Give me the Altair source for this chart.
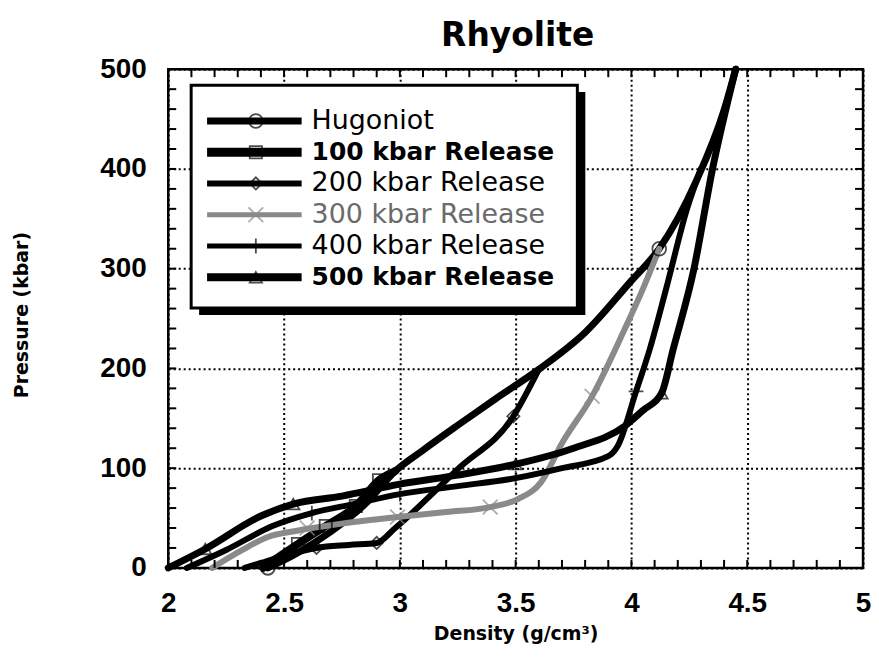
import altair as alt
import pandas as pd

# ---------------- data ----------------
series_names = ["Hugoniot", "100 kbar Release", "200 kbar Release",
                "300 kbar Release", "400 kbar Release", "500 kbar Release"]

hug_d = [2.43, 2.55, 2.70, 2.85, 2.98, 3.10, 3.25, 3.41, 3.60, 3.80, 4.00, 4.12, 4.28, 4.40, 4.45]
hug_p = [0, 14, 36, 64, 97, 118, 143, 169, 199, 236, 288, 320, 388, 459, 500]

r100_d = [2.98, 2.91, 2.81, 2.68, 2.56, 2.47, 2.41]
r100_p = [97, 88, 62, 42, 24, 10, 0]

r200_d = [3.60, 3.49, 3.25, 2.98, 2.90, 2.78, 2.64, 2.50, 2.40, 2.33]
r200_p = [199, 152, 99, 40, 25, 23, 20, 12, 5, 0]

r300_d = [4.12, 4.05, 3.97, 3.83, 3.70, 3.61, 3.51, 3.39, 3.20, 2.99, 2.80, 2.68, 2.55, 2.43, 2.32, 2.19]
r300_p = [320, 280, 239, 172, 125, 86, 69, 61, 56, 51, 46, 42, 37, 31, 18, 0]

r400_d = [4.30, 4.24, 4.15, 4.08, 4.02, 3.94, 3.90, 3.70, 3.50, 3.25, 3.00, 2.80, 2.62, 2.45, 2.25, 2.08]
r400_p = [400, 360, 280, 220, 177, 122, 112, 100, 90, 82, 74, 64, 55, 42, 18, 0]

r500_d = [4.45, 4.35, 4.27, 4.18, 4.13, 4.05, 3.97, 3.75, 3.50, 3.25, 3.00, 2.75, 2.54, 2.40, 2.16, 2.00]
r500_p = [500, 400, 300, 219, 175, 158, 142, 120, 104, 93, 84, 72, 64, 52, 19, 0]

# marker locations
hug_md, hug_mp = [2.43, 4.12], [0, 320]
r100_md, r100_mp = [2.91, 2.81, 2.68, 2.56], [88, 62, 42, 24]
r200_md, r200_mp = [3.49, 2.90, 2.64], [152, 25, 20]
r300_md, r300_mp = [3.83, 3.39, 2.99, 2.60], [172, 61, 51, 40]
r400_md, r400_mp = [4.02, 3.50, 3.00, 2.62], [177, 90, 74, 55]
r500_md, r500_mp = [4.13, 3.50, 2.54, 2.16], [175, 104, 64, 19]

x_label_values = [2, 2.5, 3, 3.5, 4, 4.5, 5]
y_label_values = [0, 100, 200, 300, 400, 500]
chart_title = "Rhyolite"

# ---------------- styling ----------------
W, H = 698, 501
X_SHAPE = "M-1,-1L1,1M-1,1L1,-1"
PLUS_SHAPE = "M0,-1L0,1M-1,0L1,0"
style = {
    "Hugoniot":         dict(col="black",   sw=7, lsw=7, shape="circle",      size=190, tcol="black",   bold=False),
    "100 kbar Release": dict(col="black",   sw=8, lsw=9, shape="square",      size=150, tcol="black",   bold=True),
    "200 kbar Release": dict(col="black",   sw=6, lsw=6, shape="diamond",     size=150, tcol="black",   bold=False),
    "300 kbar Release": dict(col="#8a8a8a", sw=6, lsw=5, shape=X_SHAPE,       size=220, tcol="#6a6a6a", bold=False),
    "400 kbar Release": dict(col="black",   sw=6, lsw=5, shape=PLUS_SHAPE,    size=220, tcol="black",   bold=False),
    "500 kbar Release": dict(col="black",   sw=7, lsw=8, shape="triangle-up", size=150, tcol="black",   bold=True),
}

curves = dict(zip(series_names, [(hug_d, hug_p), (r100_d, r100_p), (r200_d, r200_p),
                                 (r300_d, r300_p), (r400_d, r400_p), (r500_d, r500_p)]))
marks = dict(zip(series_names, [(hug_md, hug_mp), (r100_md, r100_mp), (r200_md, r200_mp),
                                (r300_md, r300_mp), (r400_md, r400_mp), (r500_md, r500_mp)]))

line_rows, mark_rows, leg_rows = [], [], []
for k, name in enumerate(series_names):
    st = style[name]
    ds, ps = curves[name]
    for d, p in zip(ds, ps):
        line_rows.append(dict(series=name, d=d, p=p, col=st["col"], sw=st["sw"]))
    mds, mps = marks[name]
    for d, p in zip(mds, mps):
        mark_rows.append(dict(series=name, d=d, p=p, shape=st["shape"], size=st["size"], col=st["col"]))
    leg_rows.append(dict(series=name, ly=52 + 31.4 * k, col=st["col"], sw=st["lsw"],
                         shape=st["shape"], size=st["size"], tcol=st["tcol"],
                         bold=int(st["bold"])))

lines_df = pd.DataFrame(line_rows)
marks_df = pd.DataFrame(mark_rows)
leg_df = pd.DataFrame(leg_rows)
title_df = pd.DataFrame({"t": [chart_title]})

x_minor = pd.DataFrame({"d": [round(2 + 0.1 * i, 1) for i in range(1, 30)]})
y_minor = pd.DataFrame({"p": [20 * i for i in range(1, 25)]})

xscale = alt.Scale(domain=[2, 5], nice=False, zero=False)
yscale = alt.Scale(domain=[0, 500], nice=False, zero=False)

grid_common = dict(grid=True, gridColor="black", gridDash=[2, 3], gridWidth=2, gridOpacity=1,
                   ticks=False, domain=False, labelColor="black", labelFont="Liberation Sans",
                   labelFontSize=28, labelFontWeight="bold", labelOverlap=False, labelFlush=False)

x_axis = alt.Axis(values=x_label_values, format="~g", labelPadding=22,
                  title="Density (g/cm³)", titleFont="DejaVu Sans", titleFontSize=19,
                  titleFontWeight="bold", titleColor="black", titleY=72,
                  titleBaseline="alphabetic", **grid_common)
y_axis = alt.Axis(values=y_label_values, format="d", labelPadding=22,
                  title="Pressure (kbar)", titleFont="DejaVu Sans", titleFontSize=19,
                  titleFontWeight="bold", titleColor="black", titleX=-147, titleY=H / 2 - 4,
                  titleBaseline="middle", titleAngle=270, **grid_common)

lines = alt.Chart(lines_df).mark_line(strokeJoin="round", strokeCap="round",
                                      interpolate="monotone").encode(
    x=alt.X("d:Q", scale=xscale, axis=x_axis),
    y=alt.Y("p:Q", scale=yscale, axis=y_axis),
    detail="series:N",
    order="d:Q",
    color=alt.Color("col:N", scale=None),
    strokeWidth=alt.StrokeWidth("sw:Q", scale=None),
)

points = alt.Chart(marks_df).mark_point(filled=False, strokeWidth=1.8).encode(
    x=alt.X("d:Q", scale=xscale),
    y=alt.Y("p:Q", scale=yscale),
    shape=alt.Shape("shape:N", scale=None),
    size=alt.Size("size:Q", scale=None),
    color=alt.Color("col:N", scale=None),
)

tick_style = dict(color="black", strokeWidth=2)
xt_bottom = alt.Chart(x_minor).mark_rule(**tick_style).encode(
    x=alt.X("d:Q", scale=xscale), y=alt.value(H), y2=alt.value(H - 8))
xt_top = alt.Chart(x_minor).mark_rule(**tick_style).encode(
    x=alt.X("d:Q", scale=xscale), y=alt.value(0), y2=alt.value(8))
yt_left = alt.Chart(y_minor).mark_rule(**tick_style).encode(
    y=alt.Y("p:Q", scale=yscale), x=alt.value(0), x2=alt.value(8))
yt_right = alt.Chart(y_minor).mark_rule(**tick_style).encode(
    y=alt.Y("p:Q", scale=yscale), x=alt.value(W), x2=alt.value(W - 8))

# ---------------- legend box ----------------
box_l, box_t, box_r, box_b = 23, 16, 411, 240
shadow = alt.Chart(title_df).mark_rect(color="black").encode(
    x=alt.value(box_l + 8), x2=alt.value(box_r + 8), y=alt.value(box_t + 7), y2=alt.value(box_b + 7))
box = alt.Chart(title_df).mark_rect(fill="white", stroke="black", strokeWidth=3).encode(
    x=alt.value(box_l), x2=alt.value(box_r), y=alt.value(box_t), y2=alt.value(box_b))
leg_lines = alt.Chart(leg_df).mark_rule(strokeCap="butt").encode(
    x=alt.value(39), x2=alt.value(134),
    y=alt.Y("ly:Q", scale=None),
    color=alt.Color("col:N", scale=None),
    strokeWidth=alt.StrokeWidth("sw:Q", scale=None),
)
leg_pts = alt.Chart(leg_df).mark_point(filled=False, strokeWidth=1.8).encode(
    x=alt.value(88),
    y=alt.Y("ly:Q", scale=None),
    shape=alt.Shape("shape:N", scale=None),
    size=alt.Size("size:Q", scale=None),
    color=alt.Color("col:N", scale=None),
)
leg_text_bold = alt.Chart(leg_df).transform_filter("datum.bold == 1").mark_text(
    align="left", baseline="middle", font="DejaVu Sans", fontSize=25, fontWeight="bold").encode(
    x=alt.value(144),
    y=alt.Y("ly:Q", scale=None),
    text="series:N",
    color=alt.Color("tcol:N", scale=None),
)
leg_text_norm = alt.Chart(leg_df).transform_filter("datum.bold == 0").mark_text(
    align="left", baseline="middle", font="DejaVu Sans", fontSize=27, fontWeight="normal").encode(
    x=alt.value(144),
    y=alt.Y("ly:Q", scale=None),
    text="series:N",
    color=alt.Color("tcol:N", scale=None),
)

title_mark = alt.Chart(title_df).mark_text(align="center", baseline="alphabetic", font="DejaVu Sans",
                                           fontSize=33, fontWeight="bold", color="black").encode(
    x=alt.value(W / 2 + 2), y=alt.value(-23), text="t:N")

chart = alt.layer(
    lines, points, xt_bottom, xt_top, yt_left, yt_right,
    shadow, box, leg_lines, leg_pts, leg_text_bold, leg_text_norm, title_mark,
).properties(
    width=W, height=H,
    padding={"left": 161, "top": 60, "right": 8, "bottom": 85},
    autosize=alt.AutoSizeParams(type="none"),
    background="white",
).configure_view(
    stroke="black", strokeWidth=2.5
)

chart.save("out.html", embed_options={"renderer": "svg", "actions": False})
